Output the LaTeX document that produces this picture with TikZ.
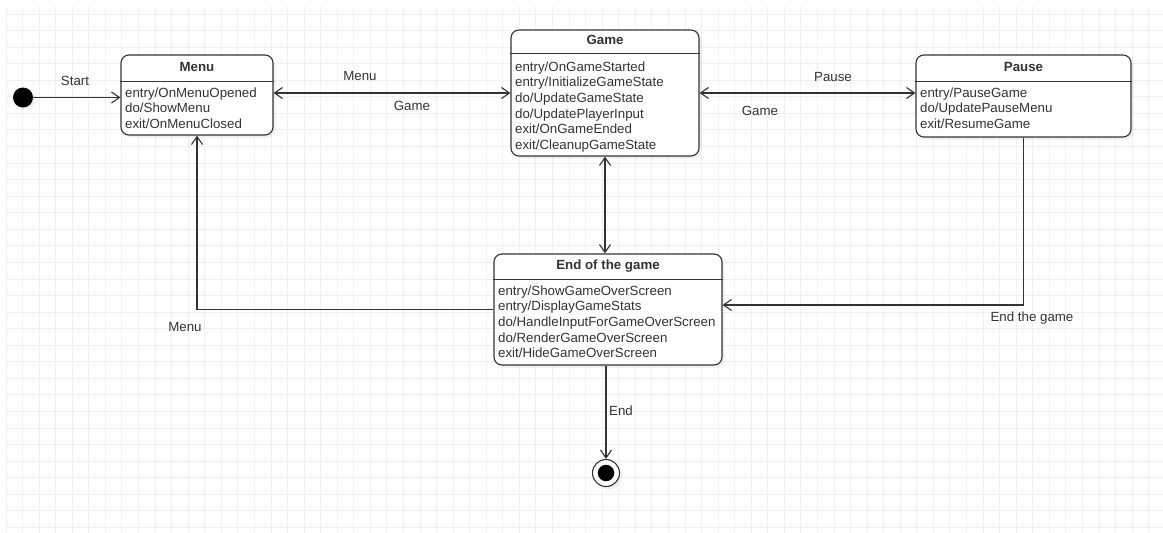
\documentclass[tikz,border=0pt]{standalone}
\usepackage{fontspec}
\setmainfont{Liberation Sans}
\usepackage{xcolor}
\definecolor{ink}{HTML}{333333}
\definecolor{gridgray}{HTML}{F0F0F0}
\usetikzlibrary{arrows.meta,calc,positioning,shadows}
\tikzset{
    >={Straight Barb[length=8pt,width=11pt]},
    state/.style ={rectangle, rounded corners=8pt, draw=ink, line width=1.1pt, fill=white,
                   drop shadow={shadow xshift=2.5pt, shadow yshift=-2.5pt, opacity=0.12}},
    divider/.style={draw=ink, line width=1.1pt},
    title/.style ={font=\fontsize{13.3}{15.6}\selectfont\bfseries, text=ink, inner sep=0pt,
                   text height=9.5pt, text depth=2.5pt},
    body/.style  ={font=\fontsize{13.3}{15.6}\selectfont, text=ink, align=left, inner sep=0pt, anchor=north west},
    lbl/.style   ={font=\fontsize{13.3}{15.6}\selectfont, text=ink, inner sep=0pt},
    trans/.style ={->, draw=ink, line width=1.1pt},
    twoway/.style={<->, draw=ink, line width=1.1pt},
    gridline/.style={draw=gridgray, line width=0.9pt}
}

\begin{document}
\begin{tikzpicture}[x=1pt, y=-1pt]
    \fill[white] (0,0) rectangle (1163,533);
    \useasboundingbox (0,0) rectangle (1163,533);
    % background grid
    \foreach \i in {0,...,69}
        \draw[gridline] ({6+16.56*\i},6) -- ({6+16.56*\i},533);
    \foreach \j in {0,...,31}
        \draw[gridline] (6,{14+16.56*\j}) -- (1163,{14+16.56*\j});

    % states
    \node[state, minimum width=152, minimum height=80] (menu) at (197,95) {};
    \node[title] (menu-title) at ($(menu.north)+(0,13.5)$) {Menu};
    \draw[divider] ($(menu.north west)+(0,27)$) -- ($(menu.north east)+(0,27)$);
    \node[body] (menu-body) at ($(menu.north west)+(4.5,33)$)
        {entry/OnMenuOpened\\do/ShowMenu\\exit/OnMenuClosed};

    \node[state, minimum width=188, minimum height=126] (game) at (605,93) {};
    \node[title] (game-title) at ($(game.north)+(0,12)$) {Game};
    \draw[divider] ($(game.north west)+(0,24)$) -- ($(game.north east)+(0,24)$);
    \node[body] (game-body) at ($(game.north west)+(4.5,32)$)
        {entry/OnGameStarted\\entry/InitializeGameState\\do/UpdateGameState\\do/UpdatePlayerInput\\exit/OnGameEnded\\exit/CleanupGameState};

    \node[state, minimum width=215, minimum height=82] (pause) at (1023.5,96) {};
    \node[title] (pause-title) at ($(pause.north)+(0,13.5)$) {Pause};
    \draw[divider] ($(pause.north west)+(0,27)$) -- ($(pause.north east)+(0,27)$);
    \node[body] (pause-body) at ($(pause.north west)+(4.5,33)$)
        {entry/PauseGame\\do/UpdatePauseMenu\\exit/ResumeGame};

    \node[state, minimum width=228, minimum height=111] (over) at (608,309.5) {};
    \node[title] (over-title) at ($(over.north)+(0,13)$) {End of the game};
    \draw[divider] ($(over.north west)+(0,26)$) -- ($(over.north east)+(0,26)$);
    \node[body] (over-body) at ($(over.north west)+(4.5,32)$)
        {entry/ShowGameOverScreen\\entry/DisplayGameStats\\do/HandleInputForGameOverScreen\\do/RenderGameOverScreen\\exit/HideGameOverScreen};

    % pseudo states
    \node[circle, fill=black, minimum size=20, inner sep=0pt,
          drop shadow={shadow xshift=2pt, shadow yshift=-2pt, opacity=0.12}] (init) at (23,97.5) {};
    \node[circle, draw=ink, line width=1.1pt, fill=white, minimum size=27, inner sep=0pt,
          drop shadow={shadow xshift=2.5pt, shadow yshift=-2.5pt, opacity=0.12}] (final) at (606,473) {};
    \node[circle, fill=black, minimum size=16.5, inner sep=0pt] (final-dot) at (final) {};

    % transitions
    \draw[trans] (init) -- (init -| menu.west);
    \draw[twoway] (game.west -| menu.east) -- (game.west);
    \draw[twoway] (game.east) -- (game.east -| pause.west);
    \draw[twoway] (game.south) -- (game.south |- over.north);
    \draw[trans] (over.west) -| (menu.south);
    \draw[trans] (pause.south) |- ([yshift=4.5pt]over.east);
    \draw[trans] (final |- over.south) -- (final.north);

    % labels
    \node[lbl] (lbl-start) at (75,81) {Start};
    \node[lbl] (lbl-menu1) at (360,76) {Menu};
    \node[lbl] (lbl-game1) at (412,106) {Game};
    \node[lbl] (lbl-pause) at (833,77) {Pause};
    \node[lbl] (lbl-game2) at (760,110.5) {Game};
    \node[lbl] (lbl-menu2) at (185,327) {Menu};
    \node[lbl] (lbl-endgame) at (1032,318) {End the game};
    \node[lbl] (lbl-end) at (621,410.5) {End};
\end{tikzpicture}
\end{document}
